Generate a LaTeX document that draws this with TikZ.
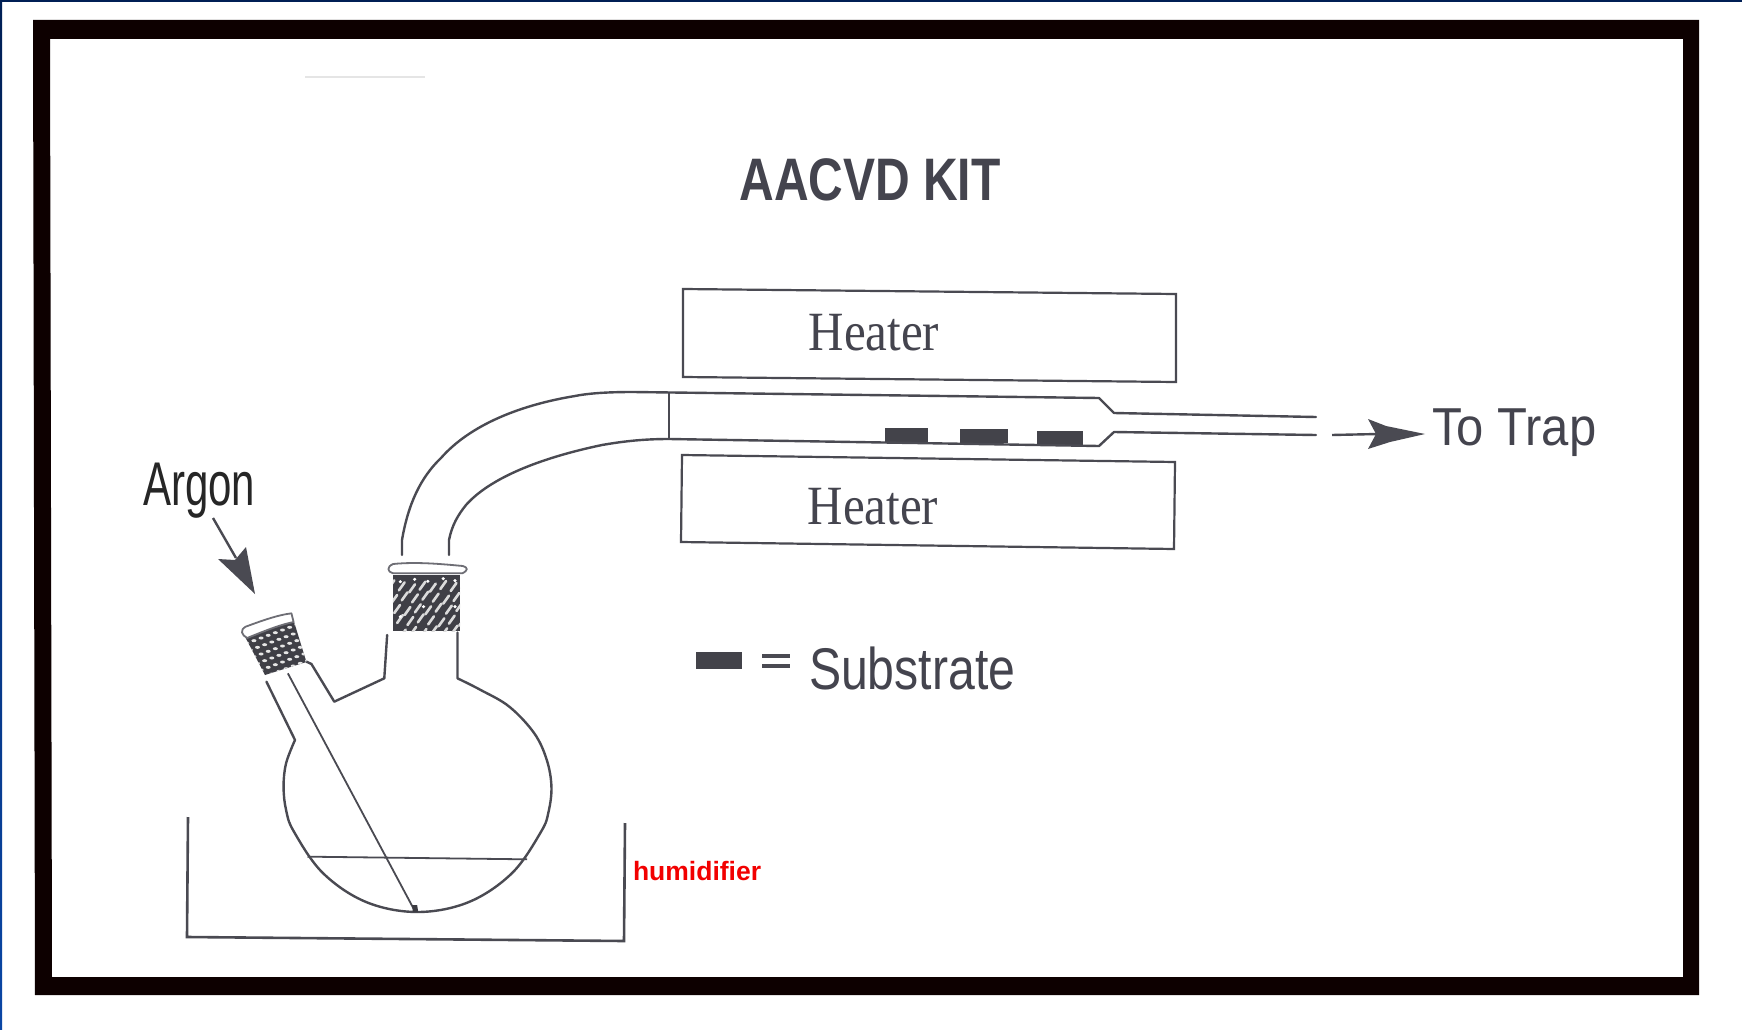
\documentclass[tikz,border=0pt]{standalone}
\usepackage{fontspec}
\setmainfont{Liberation Sans}
\newfontfamily\serifface{Liberation Serif}
\usetikzlibrary{calc}
\definecolor{ink}{HTML}{4A4A52}
\definecolor{textink}{HTML}{44444E}
\definecolor{navyedge}{HTML}{001F55}
\definecolor{blueedge}{HTML}{0A46A5}
\tikzset{
  glass/.style={draw=ink,line width=2.4pt,line join=round,line cap=round},
  thinglass/.style={draw=ink,line width=1.8pt,line join=round},
  rimline/.style={draw=ink!80,line width=1.8pt,line join=round,fill=white},
  heaterbox/.style={draw=ink,line width=2.2pt,fill=white},
  chip/.style={fill=ink!90!black,draw=none},
  labeltext/.style={inner sep=0pt,outer sep=0pt,anchor=base,text=textink},
  flowshaft/.style={draw=ink,line width=2.4pt},
  flowhead/.style={fill=ink,draw=none}
}
\newcommand{\stretched}[3]{\fontsize{#1}{#1}\selectfont\scalebox{1}[#2]{#3}}
\begin{document}
\begin{tikzpicture}[x=1pt,y=-1pt]
\useasboundingbox (0,0) rectangle (1742,1030);
\fill[white] (0,0) rectangle (1742,1030);
% page edge
\fill[navyedge] (0,0) rectangle (1742,2);
\shade[top color=navyedge,bottom color=blueedge] (0,0) rectangle (2,1030);
% thick frame, very slightly skewed
\fill[black!95!red,even odd rule] (33,20) -- (1699,20) -- (1699,995) -- (35,995) -- cycle
  (50,39) -- (1683,39) -- (1683,977) -- (52,977) -- cycle;
% faint smudge
\draw[black!10,line width=1.2pt] (305,77) -- (425,77);

% title
\node[labeltext] (title) at (870,200) {\bfseries\stretched{48}{1.25}{AACVD KIT}};

% heaters
\draw[heaterbox] (683,289) -- (1176,294) -- (1176,382) -- (683,377) -- cycle;
\draw[heaterbox] (682,455) -- (1175,462) -- (1174,549) -- (681,542) -- cycle;
\node[labeltext] (heaterA) at (874,350) {\serifface\stretched{49}{1.13}{Heater}};
\node[labeltext] (heaterB) at (873,524) {\serifface\stretched{49}{1.13}{Heater}};

% substrates in tube
\fill[chip] (885,428) rectangle (928,442);
\fill[chip] (960,429) rectangle (1008,443);
\fill[chip] (1037,431) rectangle (1083,445);

% tube
\draw[glass] (402,555) -- (402,540) .. controls (408,505) and (420,478) .. (441,458)
  .. controls (470,425) and (520,405) .. (575,396) .. controls (590,393) and (610,392) .. (633,392)
  -- (1099,398) -- (1114,413) -- (1316,417);
\draw[glass] (449,555) -- (449,540) .. controls (452,525) and (458,515) .. (466,505)
  .. controls (490,478) and (540,458) .. (602,445) .. controls (625,441) and (645,439) .. (669,439)
  -- (1099,446) -- (1114,432) -- (1316,435);
\draw[thinglass] (669,392) -- (669,439);

% to trap arrow
\coordinate (trapstart) at (1332,435);
\coordinate (trapneck) at (1378,434);
\draw[flowshaft] (trapstart) -- (trapneck);
\fill[flowhead] (1368,419) -- (1386,426) -- (1425,434) -- (1390,442) -- (1368,449) -- (1376,434) -- cycle;
\node[labeltext,anchor=base west] (trap) at (1432,445) {\stretched{49}{1.09}{To Trap}};

% argon
\node[labeltext,anchor=base west,text=black!85] (argon) at (143,505) {\stretched{42}{1.47}{Argon}};
\coordinate (argonstart) at (213,518);
\coordinate (argonneck) at (236,558);
\draw[flowshaft] (argonstart) -- (argonneck);
\fill[flowhead] (255,594) -- (218,559) -- (235,560) -- (246,547) -- cycle;

% legend
\fill[chip] (696,652) rectangle (742,669);
\fill[ink] (762,654) rectangle (790,657.5);
\fill[ink] (762,664) rectangle (790,667.5);
\node[labeltext,anchor=base west] (substrate) at (809,689) {\stretched{48.2}{1.22}{Substrate}};

% humidifier label
\node[inner sep=0pt,outer sep=0pt,anchor=base west,text=red!95!black] (humid) at (633,880)
  {\bfseries\fontsize{26.5}{26.5}\selectfont humidifier};

% bath
\draw[draw=ink,line width=2.6pt,line join=miter] (188,817) -- (187,937) -- (624,941) -- (625,823);

% flask, traced in crop coordinates
\begin{scope}[shift={(120,440)},x=0.35714pt,y=-0.33333pt]
  \draw[glass] (945,578) -- (945,715) plot[smooth,tension=0.6] coordinates {
    (945,715) (1010,750) (1090,800) (1160,880) (1195,960) (1208,1040) (1200,1115) (1179,1175)
    (1098,1299) (977,1386) (833,1416) (689,1386) (568,1299) (487,1175) (465,1110) (458,1040)
    (465,970) (490,900)}
    -- (410,725);
  \draw[glass] (522,665) -- (536,672) -- (600,785) -- (740,715) -- (748,585);
  \draw[thinglass] (470,700) -- (825,1412);
  \draw[thinglass] (525,1250) -- (1140,1258);
  \fill[ink!80!black] (818,1395) -- (832,1395) -- (835,1416) -- (820,1416) -- cycle;
  % main ground joint
  \begin{scope}
    \clip (764,405) rectangle (952,573);
    \fill[ink!85!black] (764,405) rectangle (952,573);
    \foreach \a in {0,...,7} \foreach \b in {0,...,4} {
      \draw[white!72!gray,line width=2.6pt,line cap=round]
        ($(752,445)+\a*(29,0)+\b*(8,34)+{mod(\a*3+\b*5,7)*2}*(0,1)$) -- ++(16,-24);
    }
    \foreach \xx/\yy in {785/425,825/418,862/424,905/416,938/422,938/500,785/530,850/500} {
      \fill[white] (\xx,\yy) circle (5);
    }
  \end{scope}
  \draw[rimline] (765,372) .. controls (830,365) and (900,372) .. (960,378)
     .. controls (975,382) and (975,392) .. (958,400) -- (765,400) .. controls (748,396) and (746,380) .. (765,372) -- cycle;
  % side ground joint
  \begin{scope}
    \clip (350,590) -- (484,534) -- (522,666) -- (406,705) -- cycle;
    \fill[ink!85!black] (340,520) rectangle (530,720);
    \foreach \a in {0,...,7} \foreach \b in {0,...,7} {
      \fill[white!80!gray] ($(345,590)+\a*(20,-8)+\b*(10,20)$) ellipse (7 and 4.5);
    }
  \end{scope}
  \draw[rimline] (352,560) .. controls (390,545) and (440,525) .. (480,520)
     -- (486,546) .. controls (445,555) and (400,575) .. (356,594)
     .. controls (340,585) and (335,570) .. (352,560) -- cycle;
\end{scope}
\end{tikzpicture}
\end{document}
